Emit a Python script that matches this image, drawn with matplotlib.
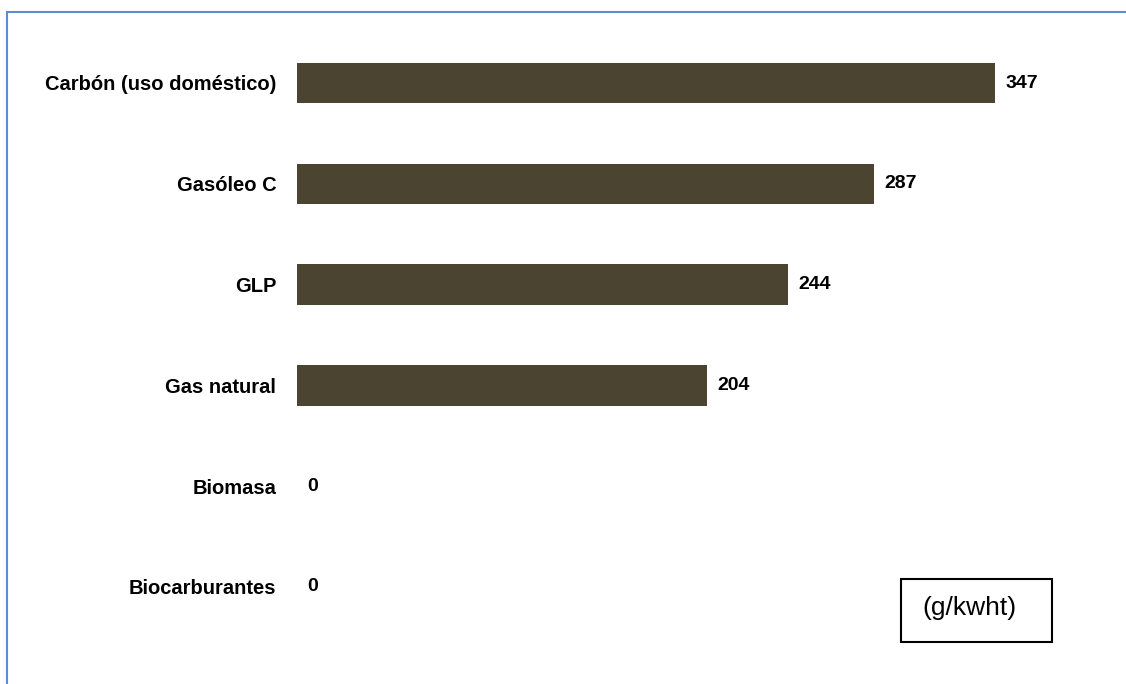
import matplotlib.pyplot as plt
import matplotlib.patches as patches

categories = ["Carbón (uso doméstico)", "Gasóleo C", "GLP", "Gas natural", "Biomasa", "Biocarburantes"]
values = [347, 287, 244, 204, 0, 0]
unit_label = "(g/kwht)"

W, H = 1126, 684
fig = plt.figure(figsize=(W / 100, H / 100), dpi=100)
fig.patch.set_facecolor("white")

plt.rcParams['font.family'] = ['Liberation Sans', 'DejaVu Sans']

# axes placed so that x=0 sits at px 297 and ~2.01 px per unit
ax_left = 297 / W
ax_w = 804.6 / W
ax_top = 32.6
ax_h = 604.8
ax = fig.add_axes([ax_left, 1 - (ax_top + ax_h) / H, ax_w, ax_h / H])

ypos = list(range(len(categories)))
ax.barh(ypos, values, height=0.4, color="#4b4430")
ax.set_xlim(0, 400)
ax.set_ylim(len(categories) - 0.5, -0.5)

ax.set_yticks(ypos)
ax.set_yticklabels(categories, fontsize=14.5, fontweight="bold")
ax.tick_params(axis="y", length=0, pad=15)
ax.set_xticks([])
for s in ax.spines.values():
    s.set_visible(False)

for y, v in zip(ypos, values):
    ax.annotate(str(v), (v, y), xytext=(7.5, 0), textcoords="offset points",
                ha="left", va="center", fontsize=14, fontweight="bold")

# blue frame (only top and left edges visible in the crop)
frame = patches.Rectangle((7 / W, -0.1), 1.2, 1 - 12 / H + 0.1, transform=fig.transFigure,
                          fill=False, edgecolor="#5b8bd0", linewidth=1.5, clip_on=False)
fig.add_artist(frame)

# unit box
box = patches.Rectangle((901 / W, 1 - 642 / H), 151 / W, 63 / H, transform=fig.transFigure,
                        fill=False, edgecolor="black", linewidth=1.5)
fig.add_artist(box)
fig.text(969 / W, 1 - 608 / H, unit_label, ha="center", va="center", fontsize=19)

fig.savefig("out.png", dpi=100)
